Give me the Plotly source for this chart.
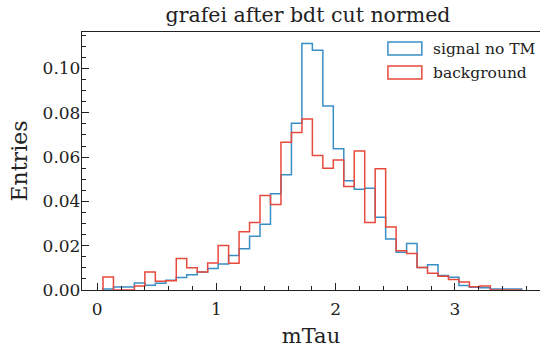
import numpy as np
import plotly.graph_objects as go

# ---- data ----
bin_start = 0.048
bin_width = 0.0878
n_bins = 40

signal_no_tm = [0.0005, 0.0014, 0.0014, 0.0032, 0.0021, 0.0030, 0.0044, 0.0057, 0.0069, 0.0081,
                0.0097, 0.0117, 0.0156, 0.0186, 0.0243, 0.0297, 0.0435, 0.0520, 0.0753, 0.1113,
                0.1083, 0.0831, 0.0638, 0.0493, 0.0455, 0.0460, 0.0328, 0.0230, 0.0170, 0.0210,
                0.0102, 0.0114, 0.0065, 0.0058, 0.0020, 0.0012, 0.0010, 0.0005, 0.0005, 0.0005]
background = [0.0059, 0.0, 0.0, 0.0018, 0.0081, 0.0040, 0.0042, 0.0142, 0.0100, 0.0081,
              0.0122, 0.0201, 0.0121, 0.0263, 0.0305, 0.0427, 0.0386, 0.0667, 0.0711, 0.0772,
              0.0607, 0.0550, 0.0587, 0.0467, 0.0628, 0.0305, 0.0547, 0.0284, 0.0177, 0.0165,
              0.0102, 0.0076, 0.0062, 0.0047, 0.0036, 0.0015, 0.0018, 0.0, 0.0, 0.0]

x_ticks = [0, 1, 2, 3]
y_ticks = [0.00, 0.02, 0.04, 0.06, 0.08, 0.10]

title = "grafei after bdt cut normed"
labels = ["signal no TM", "background"]
colors = ["#3a8ec6", "#e8493d"]

edges = bin_start + bin_width * np.arange(n_bins + 1)

def step_xy(vals):
    x = [edges[0]] + list(edges)
    y = [0.0] + list(vals) + [0.0]
    return x, y

FONT = "DejaVu Serif"
fig = go.Figure()
for vals, name, col in [(signal_no_tm, labels[0], colors[0]), (background, labels[1], colors[1])]:
    x, y = step_xy(vals)
    fig.add_trace(go.Scatter(x=x, y=y, mode="lines", line=dict(color=col, width=1.5, shape="hv"),
                             name=name, showlegend=False))

# legend (manual, matplotlib style rectangles)
leg_y = [0.936, 0.843]
for i, (name, col) in enumerate(zip(labels, colors)):
    fig.add_shape(type="rect", xref="paper", yref="paper", x0=0.668, x1=0.742,
                  y0=leg_y[i] - 0.025, y1=leg_y[i] + 0.025, line=dict(color=col, width=1.5),
                  fillcolor="rgba(0,0,0,0)")
    fig.add_annotation(xref="paper", yref="paper", x=0.763, y=leg_y[i], text=name,
                       showarrow=False, xanchor="left", yanchor="middle",
                       font=dict(family=FONT, size=15.5, color="#222"))

fig.update_layout(
    width=540, height=348,
    margin=dict(l=82, r=0, t=32, b=58),
    paper_bgcolor="white", plot_bgcolor="white",
    title=dict(text=title, x=(308 - 82) / 458, xref="paper", xanchor="center",
               y=1 - 15 / 348, yref="container", yanchor="middle",
               font=dict(family=FONT, size=20.5, color="#222")),
    showlegend=False,
)
fig.update_xaxes(
    range=[-0.128, 3.713], tickvals=x_ticks, ticktext=[str(v) for v in x_ticks],
    showgrid=False, zeroline=False, showline=True, linecolor="#222", linewidth=1.3, mirror=True,
    ticks="inside", ticklen=7, tickwidth=1, tickcolor="#222",
    minor=dict(dtick=0.2, ticks="inside", ticklen=4, tickwidth=1, tickcolor="#222"),
    tickfont=dict(family=FONT, size=17, color="#222"), ticklabelstandoff=3,
    title=dict(text="mTau", font=dict(family=FONT, size=21, color="#222"), standoff=14),
)
fig.update_yaxes(
    range=[0, 0.1165], tickvals=y_ticks, ticktext=[f"{v:.2f}" for v in y_ticks],
    showgrid=False, zeroline=False, showline=True, linecolor="#222", linewidth=1.3,
    ticks="inside", ticklen=7, tickwidth=1, tickcolor="#222",
    minor=dict(dtick=0.005, ticks="inside", ticklen=4, tickwidth=1, tickcolor="#222"),
    tickfont=dict(family=FONT, size=17, color="#222"), ticklabelstandoff=-3,
    title=dict(text="Entries", font=dict(family=FONT, size=22, color="#222"), standoff=8),
)

fig.write_html("out.html")
